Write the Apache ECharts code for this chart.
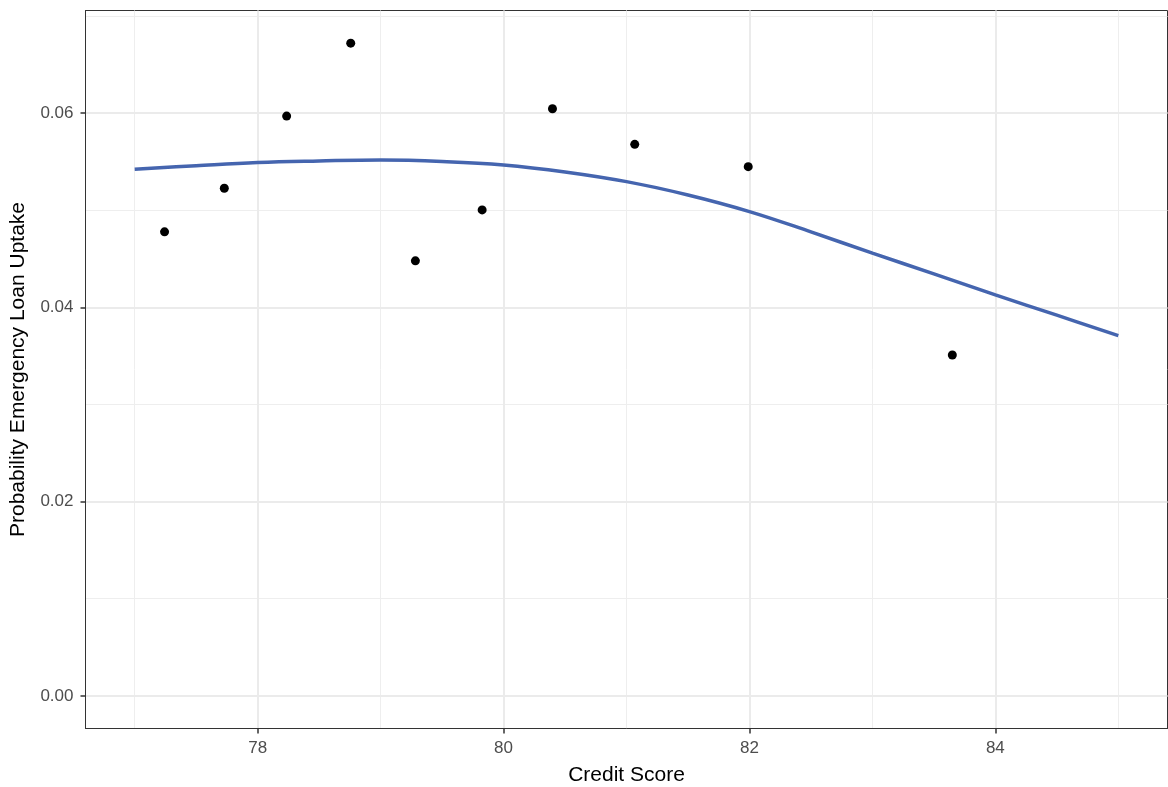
<!DOCTYPE html>
<html><head><meta charset="utf-8">
<script src="https://cdn.jsdelivr.net/npm/echarts@6/dist/echarts.min.js"></script>
<style>html,body{margin:0;padding:0;background:#fff}#c{width:1168px;height:787px}</style>
</head><body><div id="c"></div>
<script>
// Observed points (credit score bin vs. uptake probability)
const pointX = [77.243, 77.729, 78.236, 78.757, 79.283, 79.826, 80.398, 81.067, 81.990, 83.650];
const pointY = [0.04777, 0.05226, 0.05969, 0.06720, 0.04479, 0.05003, 0.06044, 0.05678, 0.05448, 0.03509];
// Smoothed fit curve
const curveX = [77.0, 77.5, 78.0, 78.5, 79.0, 79.5, 80.0, 80.5, 81.0, 81.5, 82.0, 82.5, 83.0, 83.5, 84.0, 84.5, 85.0];
const curveY = [0.05421, 0.05458, 0.05491, 0.05507, 0.05517, 0.05502, 0.05466, 0.05394, 0.05294, 0.05157, 0.04986, 0.04777, 0.04558, 0.04345, 0.04129, 0.03919, 0.03708];
// Tick labels / grid positions
const xMajorTicks = [78, 80, 82, 84];
const xMinorTicks = [77, 79, 81, 83, 85];
const yMajorTicks = [0, 0.02, 0.04, 0.06];
const yMinorTicks = [0.01, 0.03, 0.05, 0.07];

const FONT = 'Liberation Sans, Arial, Helvetica, sans-serif';
const chart = echarts.init(document.getElementById('c'), null, {renderer: 'canvas'});
const xRange = {min: 76.6, max: 85.4};
const yRange = {min: -0.00336, max: 0.07056};
const AX = '#333333';

chart.setOption({
  animation: false,
  backgroundColor: '#ffffff',
  grid: {left: 85.5, right: 0.5, top: 10.5, bottom: 58.5, containLabel: false, outerBoundsMode: 'none',
         show: true, borderColor: AX, borderWidth: 1, backgroundColor: 'transparent'},
  xAxis: [
    {
      type: 'value', min: xRange.min, max: xRange.max, position: 'bottom',
      name: 'Credit Score', nameLocation: 'middle', nameGap: 36,
      nameTextStyle: {fontFamily: FONT, fontSize: 21, color: '#000000'},
      axisLine: {show: true, onZero: false, lineStyle: {color: AX, width: 1}},
      axisTick: {show: true, inside: false, customValues: xMajorTicks, length: 5, lineStyle: {color: AX, width: 1.5}},
      axisLabel: {show: true, customValues: xMajorTicks, margin: 11, fontFamily: FONT, fontSize: 17, color: '#4D4D4D', formatter: v => String(v)},
      splitLine: {show: true, lineStyle: {color: '#EBEBEB', width: 2}},
      z: 1
    },
    {
      type: 'value', min: xRange.min, max: xRange.max, position: 'bottom',
      axisLine: {show: false, onZero: false},
      axisTick: {show: false, customValues: xMinorTicks},
      axisLabel: {show: false, customValues: xMinorTicks},
      splitLine: {show: true, lineStyle: {color: '#EEEEEE', width: 1}},
      z: 0
    }
  ],
  yAxis: [
    {
      type: 'value', min: yRange.min, max: yRange.max, position: 'left',
      name: 'Probability Emergency Loan Uptake', nameLocation: 'middle', nameGap: 57,
      nameTextStyle: {fontFamily: FONT, fontSize: 21, color: '#000000'},
      axisLine: {show: true, onZero: false, lineStyle: {color: AX, width: 1}},
      axisTick: {show: true, inside: false, customValues: yMajorTicks, length: 5, lineStyle: {color: AX, width: 1.5}},
      axisLabel: {show: true, customValues: yMajorTicks, margin: 12, fontFamily: FONT, fontSize: 17, color: '#4D4D4D', formatter: v => v.toFixed(2)},
      splitLine: {show: true, lineStyle: {color: '#EBEBEB', width: 2}},
      z: 1
    },
    {
      type: 'value', min: yRange.min, max: yRange.max, position: 'left',
      axisLine: {show: false, onZero: false},
      axisTick: {show: false, customValues: yMinorTicks},
      axisLabel: {show: false, customValues: yMinorTicks},
      splitLine: {show: true, lineStyle: {color: '#EEEEEE', width: 1}},
      z: 0
    }
  ],
  series: [
    {
      type: 'line', xAxisIndex: 0, yAxisIndex: 0,
      data: curveX.map((x, i) => [x, curveY[i]]),
      showSymbol: false, smooth: 0.4,
      lineStyle: {color: '#4565AF', width: 3.5},
      z: 3, silent: true
    },
    {
      type: 'scatter', xAxisIndex: 0, yAxisIndex: 0,
      data: pointX.map((x, i) => [x, pointY[i]]),
      symbol: 'circle', symbolSize: 9,
      itemStyle: {color: '#000000', opacity: 1},
      z: 4, silent: true
    }
  ]
});
</script></body></html>
